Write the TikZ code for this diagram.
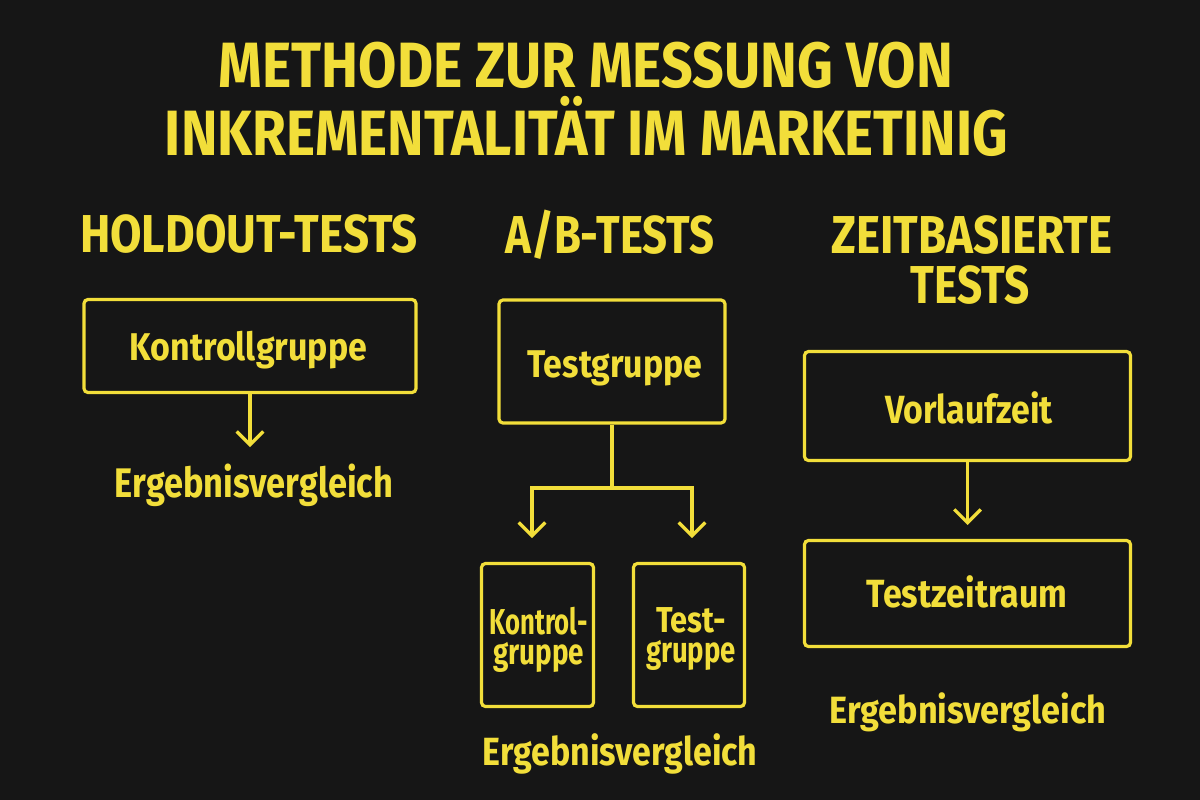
\documentclass[tikz,border=0pt]{standalone}
\usepackage{fontspec}
\setmainfont{Fira Sans}
\usepackage{graphicx}
\usetikzlibrary{arrows.meta}
\definecolor{bg}{RGB}{22,22,22}
\definecolor{yel}{RGB}{242,222,58}
\newcommand\ftxt[3]{\resizebox{#1}{\height}{\fontsize{#2}{#2}\selectfont\bfseries #3}}
\tikzset{
  txt/.style={anchor=base, inner sep=0pt, text=yel},
  twoline/.style={inner sep=0pt, text=yel, align=center, font=\fontsize{27pt}{22.5pt}\selectfont},
  box/.style={draw=yel, line width=2.4pt, rounded corners=3pt, inner sep=0pt},
  conn/.style={draw=yel, line width=2.4pt},
  arr/.style={conn, -{Straight Barb[length=10pt,width=20pt,line width=2.4pt]}}
}
\begin{document}
\begin{tikzpicture}[x=0.75pt,y=-0.75pt]
\fill[bg] (0,0) rectangle (1200,800);
\useasboundingbox (0,0) rectangle (1200,800);

% title
\node[txt] (t1) at (586,87) {\ftxt{550.5pt}{48pt}{METHODE ZUR MESSUNG VON}};
\node[txt] (t2) at (586.5,155) {\ftxt{632.25pt}{48pt}{INKREMENTALITÄT IM MARKETINIG}};

% headings
\node[txt] (h1) at (249,252) {\ftxt{253.5pt}{40pt}{HOLDOUT-TESTS}};
\node[txt] (h2) at (610,253) {\ftxt{156.75pt}{40pt}{A/B-TESTS}};
\node[txt] (h3a) at (972,253) {\ftxt{210.75pt}{40pt}{ZEITBASIERTE}};
\node[txt] (h3b) at (970,303) {\ftxt{89.25pt}{40pt}{TESTS}};

% boxes
\node[box, minimum width=249pt, minimum height=69.75pt] (b1) at (250,346) {};
\node[box, minimum width=169.5pt, minimum height=92.25pt] (b2) at (612,361.5) {};
\node[box, minimum width=84pt, minimum height=107.25pt] (b3) at (537.5,635) {};
\node[box, minimum width=83.25pt, minimum height=107.25pt] (b4) at (689,635) {};
\node[box, minimum width=244.5pt, minimum height=81.75pt] (b5) at (967.5,406) {};
\node[box, minimum width=244.5pt, minimum height=79.5pt] (b6) at (967.5,593.5) {};

% box texts
\node[txt] (l1) at (248.5,360) {\ftxt{177.75pt}{29pt}{Kontrollgruppe}};
\node[txt] (l2) at (615,377) {\ftxt{131.25pt}{29pt}{Testgruppe}};
\node[twoline] (l3) at (538.5,639.4) {\ftxt{73.5pt}{27pt}{Kontrol-}\\\ftxt{68.25pt}{27pt}{gruppe}};
\node[twoline] (l4) at (691,639.4) {\ftxt{52.5pt}{27pt}{Test-}\\\ftxt{67.5pt}{27pt}{gruppe}};
\node[txt] (l5) at (969,423) {\ftxt{126pt}{29.5pt}{Vorlaufzeit}};
\node[txt] (l6) at (967,607) {\ftxt{150.75pt}{29.5pt}{Testzeitraum}};

% results
\node[txt] (e1) at (254,497) {\ftxt{208.5pt}{31pt}{Ergebnisvergleich}};
\node[txt] (e2) at (620,765) {\ftxt{206.25pt}{29.5pt}{Ergebnisvergleich}};
\node[txt] (e3) at (968,723) {\ftxt{207.75pt}{28.5pt}{Ergebnisvergleich}};

% connectors
\coordinate (a1) at (250,447);
\draw[arr] (b1.south) -- (a1);

\coordinate (j) at (612,488);
\coordinate (tl) at (532,538);
\coordinate (tr) at (692,538);
\draw[conn] (b2.south) -- (j);
\draw[arr] (j) -| (tl);
\draw[arr] (j) -| (tr);

\coordinate (a3) at (967.5,525);
\draw[arr] (b5.south) -- (a3);
\end{tikzpicture}
\end{document}
